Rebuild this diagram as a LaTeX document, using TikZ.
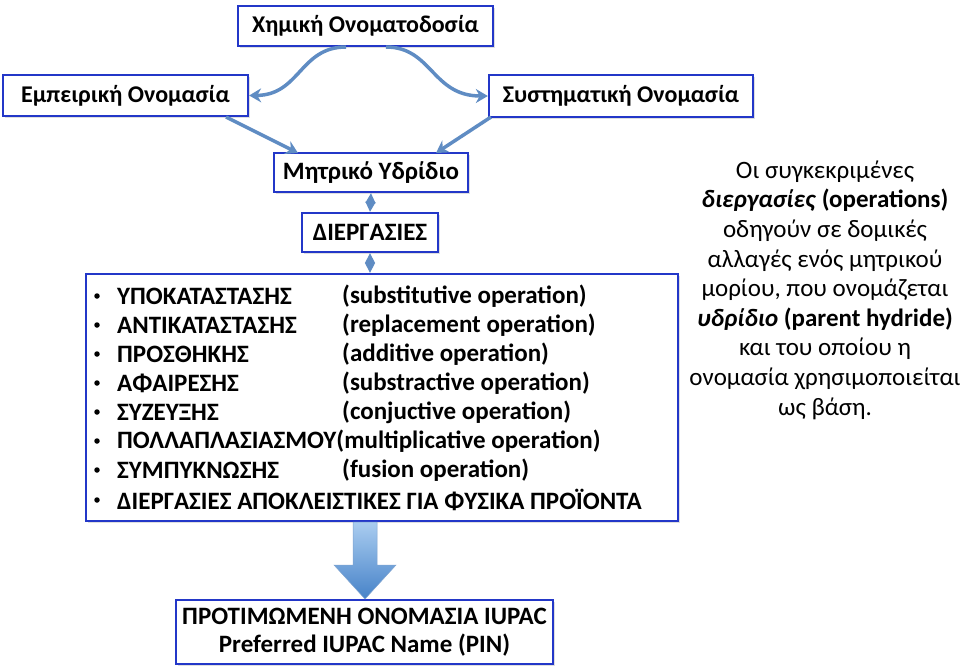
\documentclass[tikz,border=0pt]{standalone}
\usepackage{fontspec}
\setmainfont{Carlito}
\usetikzlibrary{arrows.meta,shadows}
\definecolor{boxblue}{RGB}{35,55,200}
\definecolor{arrblue}{RGB}{95,140,195}
\definecolor{arrlight}{RGB}{170,205,240}
\definecolor{arrdark}{RGB}{70,130,200}
\tikzset{
  bx/.style={draw=boxblue,line width=2.3pt,fill=white,inner sep=0pt,
    drop shadow={shadow xshift=1.5pt,shadow yshift=-1.5pt,opacity=0.25}},
  ttl/.style={font=\fontsize{25}{29}\selectfont\bfseries},
  topt/.style={font=\fontsize{24}{29}\selectfont\bfseries},
  itm/.style={anchor=west,inner sep=0pt,font=\fontsize{25}{29}\selectfont\bfseries},
  curv/.style={draw=arrblue,line width=3.5pt,-{Stealth[length=12pt,width=14pt]}},
  dbl/.style={draw=arrblue,fill=arrblue!70,line width=1.2pt,{Triangle[length=10pt,width=10pt]}-{Triangle[length=10pt,width=10pt]}},
}
\begin{document}
\begin{tikzpicture}[x=1pt,y=-1pt]
\useasboundingbox (0,0) rectangle (960,670);
% top boxes
\node[bx,topt,minimum width=255pt,minimum height=40pt] (chem) at (365.5,26) {Χημική Ονοματοδοσία};
\node[bx,topt,minimum width=245pt,minimum height=41pt] (emp) at (125.5,95.5) {Εμπειρική Ονομασία};
\node[bx,topt,minimum width=264pt,minimum height=42pt] (sys) at (621,96) {Συστηματική Ονομασία};
% parent hydride and operations
\node[bx,ttl,minimum width=194pt,minimum height=39pt] (par) at (371,172.5) {Μητρικό Υδρίδιο};
\node[bx,ttl,minimum width=136pt,minimum height=39pt] (ops) at (370,232.5) {ΔΙΕΡΓΑΣΙΕΣ};
\node[bx,minimum width=592pt,minimum height=247pt] (list) at (382,397.5) {};
% bottom box
\node[bx,ttl,minimum width=377pt,minimum height=64pt,align=center,font=\fontsize{25}{28}\selectfont\bfseries] (pin) at (364.5,632) {ΠΡΟΤΙΜΩΜΕΝΗ ΟΝΟΜΑΣΙΑ IUPAC\\Preferred IUPAC Name (PIN)};
% connectors
\draw[curv] (346,47) .. controls (300,47) and (300,95) .. (emp.east);
\draw[curv] (386,47) .. controls (432,47) and (432,96) .. (sys.west);
\draw[curv] (226,117) -- (298,153);
\draw[curv] (491,117) -- (436,153);
\draw[dbl] (par.south) -- (ops.north);
\draw[dbl] (ops.south) -- (ops.south |- list.north);
% big arrow
\path[top color=arrlight,bottom color=arrdark,draw=arrblue!80,line width=0.5pt]
  (353,522) -- (377,522) -- (377,565) -- (396,565) -- (365,599) -- (334,565) -- (353,565) -- cycle;
% list items
\foreach \y/\g/\e [count=\i] in {
  296/ΥΠΟΚΑΤΑΣΤΑΣΗΣ/(substitutive operation),
  325/ΑΝΤΙΚΑΤΑΣΤΑΣΗΣ/(replacement operation),
  354/ΠΡΟΣΘΗΚΗΣ/(additive operation),
  383/ΑΦΑΙΡΕΣΗΣ/(substractive operation),
  412/ΣΥΖΕΥΞΗΣ/(conjuctive operation),
  470/ΣΥΜΠΥΚΝΩΣΗΣ/(fusion operation)}{
  \node[itm] (g\i) at (117,\y) {\g};
  \node[itm] (e\i) at (342,\y) {\e};
}
\node[itm] (g7) at (117,441) {ΠΟΛΛΑΠΛΑΣΙΑΣΜΟΥ(multiplicative operation)};
\node[itm] (g8) at (117,500) {ΔΙΕΡΓΑΣΙΕΣ ΑΠΟΚΛΕΙΣΤΙΚΕΣ ΓΙΑ ΦΥΣΙΚΑ ΠΡΟΪΟΝΤΑ};
\foreach \y [count=\i] in {296,325,354,383,412,441,470,500}
  \node[circle,fill=black,inner sep=0pt,minimum size=5.5pt] (b\i) at (97,\y) {};
% right text
\node[align=center,font=\fontsize{25}{29.6}\selectfont,inner sep=0pt] (note) at (825,290) {Οι συγκεκριμένες\\
\textbf{\textit{διεργασίες}} \textbf{(operations)}\\
οδηγούν σε δομικές\\
αλλαγές ενός μητρικού\\
μορίου, που ονομάζεται\\
\textbf{\textit{υδρίδιο}} \textbf{(parent hydride)}\\
και του οποίου η\\
ονομασία χρησιμοποιείται\\
ως βάση.};
\end{tikzpicture}
\end{document}
